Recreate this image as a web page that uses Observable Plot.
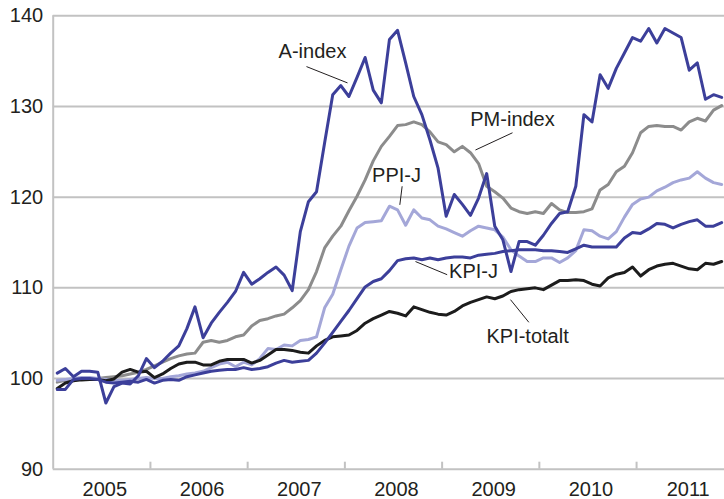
<!DOCTYPE html>
<html><head><meta charset="utf-8">
<script src="https://cdn.jsdelivr.net/npm/d3@7"></script>
<script src="https://cdn.jsdelivr.net/npm/@observablehq/plot@0.6"></script>
<style>html,body{margin:0;padding:0;background:#fff;overflow:hidden}</style>
</head><body><div id="chart"></div>
<script>
// Monthly series, January 2005 – November 2011
const startYear = 2005;
const yearTicks = [2006, 2007, 2008, 2009, 2010, 2011];
const yearLabels = [2005, 2006, 2007, 2008, 2009, 2010, 2011];
const yTicks = [90, 100, 110, 120, 130, 140];

const aIndex = [100.6,101.1,100.2,100.8,100.8,100.7,97.3,99.1,99.5,99.4,100.3,102.2,
  101.2,101.9,102.8,103.6,105.5,107.9,104.5,106.1,107.3,108.4,109.6,111.7,
  110.4,111.0,111.7,112.3,111.4,109.7,116.2,119.5,120.6,126.0,131.3,132.3,
  131.1,133.2,135.4,131.8,130.4,137.4,138.4,134.8,131.1,129.1,126.3,123.2,
  117.9,120.3,119.2,118.0,119.9,122.6,116.8,115.3,111.8,115.1,115.1,114.7,
  115.8,117.1,118.2,118.4,121.2,129.1,128.3,133.5,132.0,134.2,135.9,137.6,
  137.2,138.6,137.0,138.6,138.1,137.6,134.0,134.8,130.8,131.3,131.0];
const pmIndex = [99.6,99.8,99.9,99.9,100.0,100.0,100.1,100.2,100.3,100.5,100.7,101.0,
  101.4,101.8,102.2,102.5,102.7,102.8,104.0,104.2,104.0,104.2,104.6,104.8,
  105.8,106.4,106.6,106.9,107.1,107.8,108.6,109.8,111.8,114.4,115.7,116.8,
  118.5,120.1,121.9,124.0,125.6,126.7,127.9,128.0,128.3,128.0,127.2,126.1,
  125.8,125.0,125.6,124.9,123.7,121.2,120.6,119.9,118.8,118.4,118.2,118.4,
  118.2,119.3,118.6,118.3,118.3,118.4,118.7,120.8,121.4,122.8,123.4,124.9,
  127.1,127.8,127.9,127.8,127.8,127.4,128.3,128.7,128.4,129.6,130.1];
const ppiJ = [99.8,99.9,100.0,100.1,100.1,100.0,99.9,99.8,99.8,99.9,100.0,100.1,
  100.0,100.0,100.2,100.3,100.5,100.6,100.8,101.2,101.6,101.8,101.3,101.8,
  101.5,102.2,103.3,103.2,103.7,103.6,104.2,104.3,104.6,107.8,109.3,112.0,
  114.6,116.6,117.2,117.3,117.4,119.0,118.6,116.9,118.6,117.7,117.5,116.8,
  116.5,116.1,115.7,116.3,116.8,116.6,116.4,115.6,114.2,113.5,112.9,112.9,
  113.3,113.3,112.8,113.3,114.1,116.4,116.3,115.7,115.4,116.2,117.8,119.2,
  119.8,120.0,120.7,121.1,121.6,121.9,122.1,122.8,122.1,121.6,121.4];
const kpiJ = [98.8,98.8,99.9,100.0,100.0,99.9,99.6,99.5,99.6,99.7,99.6,99.9,
  99.5,99.8,99.9,99.8,100.2,100.4,100.6,100.8,100.9,101.0,101.0,101.2,
  101.0,101.1,101.3,101.7,102.0,101.8,101.9,102.0,102.8,103.9,105.1,106.3,
  107.5,108.8,110.1,110.7,111.0,111.9,113.0,113.2,113.3,113.1,113.3,113.1,
  113.3,113.4,113.4,113.3,113.6,113.7,113.8,114.0,114.1,114.2,114.2,114.2,
  114.1,114.1,114.0,113.9,114.3,114.7,114.5,114.5,114.5,114.5,115.5,116.1,
  116.0,116.5,117.1,117.0,116.6,117.0,117.3,117.5,116.8,116.8,117.2];
const kpiTotalt = [98.9,99.5,99.75,99.85,99.9,99.9,99.75,99.95,100.7,101.0,100.7,100.8,
  100.1,100.5,101.1,101.6,101.8,101.8,101.5,101.5,101.9,102.1,102.1,102.1,
  101.7,102.0,102.6,103.2,103.2,103.1,102.9,102.8,103.6,104.2,104.6,104.7,
  104.8,105.3,106.1,106.6,107.0,107.4,107.2,106.9,107.9,107.6,107.3,107.1,
  107.0,107.4,108.0,108.4,108.7,109.0,108.8,109.1,109.6,109.8,109.9,110.0,
  109.8,110.3,110.8,110.8,110.9,110.8,110.4,110.2,111.1,111.5,111.7,112.3,
  111.3,112.0,112.4,112.6,112.7,112.4,112.1,112.0,112.7,112.6,112.9];

const seriesNames = ["PM-index", "PPI-J", "KPI-totalt", "KPI-J", "A-index"];
const seriesValues = [pmIndex, ppiJ, kpiTotalt, kpiJ, aIndex];
const seriesColors = ["#8c8c8c", "#a4a7d8", "#1c1c1c", "#3c3f9a", "#3c3f9a"];

// Label annotations (text position and leader line, in data units)
const labelText = ["A-index", "PM-index", "PPI-J", "KPI-J", "KPI-totalt"];
const labelX = [2007.667, 2009.724, 2008.531, 2009.323, 2009.879];
const labelY = [136.0, 128.5, 122.35, 111.8, 104.6];
const leadX1 = [2007.605, 2009.724, 2008.589, 2009.052, 2009.892];
const leadY1 = [134.4, 127.1, 121.2, 111.45, 106.2];
const leadX2 = [2008.027, 2009.343, 2008.565, 2008.726, 2009.703];
const leadY2 = [132.6, 125.2, 119.15, 112.9, 108.7];

const labels = labelText.map((t, i) => ({text: t, x: labelX[i], y: labelY[i],
  x1: leadX1[i], y1: leadY1[i], x2: leadX2[i], y2: leadY2[i]}));

const lineMarks = seriesNames.map((name, k) => {
  const rows = seriesValues[k].map((v, i) => ({t: startYear + (i + 0.5) / 12, v}));
  return Plot.line(rows, {x: "t", y: "v", stroke: seriesColors[k], strokeWidth: 3,
    strokeLinejoin: "round", strokeLinecap: "round"});
});

const gridColor = "#c2c2c2";
const chart = Plot.plot({
  width: 724, height: 499,
  marginLeft: 52.7, marginTop: 15.3, marginBottom: 30.3, marginRight: 0,
  x: {domain: [2005, 2012], range: [52.7, 733.3]},
  y: {domain: [90, 140]},
  style: {fontFamily: "'Liberation Sans', Arial, Helvetica, sans-serif", fontSize: "20px",
    color: "#231f20", background: "#fff", overflow: "hidden"},
  marks: [
    Plot.ruleY(yTicks, {stroke: gridColor, strokeWidth: 2}),
    Plot.ruleX([2005], {stroke: gridColor, strokeWidth: 2}),
    Plot.axisY(yTicks, {tickSize: 0, tickPadding: 10, fontSize: 20, label: null}),
    Plot.axisX(yearTicks, {tickSize: 7, dy: -7, tickFormat: () => "", stroke: gridColor, strokeWidth: 2, label: null}),
    Plot.axisX(yearLabels.map(y => y + 0.5), {tickSize: 0, tickPadding: 13, dx: 3, fontSize: 20,
      tickFormat: d => String(Math.floor(d)), label: null}),
    ...lineMarks,
    Plot.link(labels, {x1: "x1", y1: "y1", x2: "x2", y2: "y2", stroke: "#231f20", strokeWidth: 1}),
    Plot.text(labels, {x: "x", y: "y", text: "text", fontSize: 20, fill: "#231f20"})
  ]
});
document.getElementById("chart").appendChild(chart);
</script>
</body></html>
